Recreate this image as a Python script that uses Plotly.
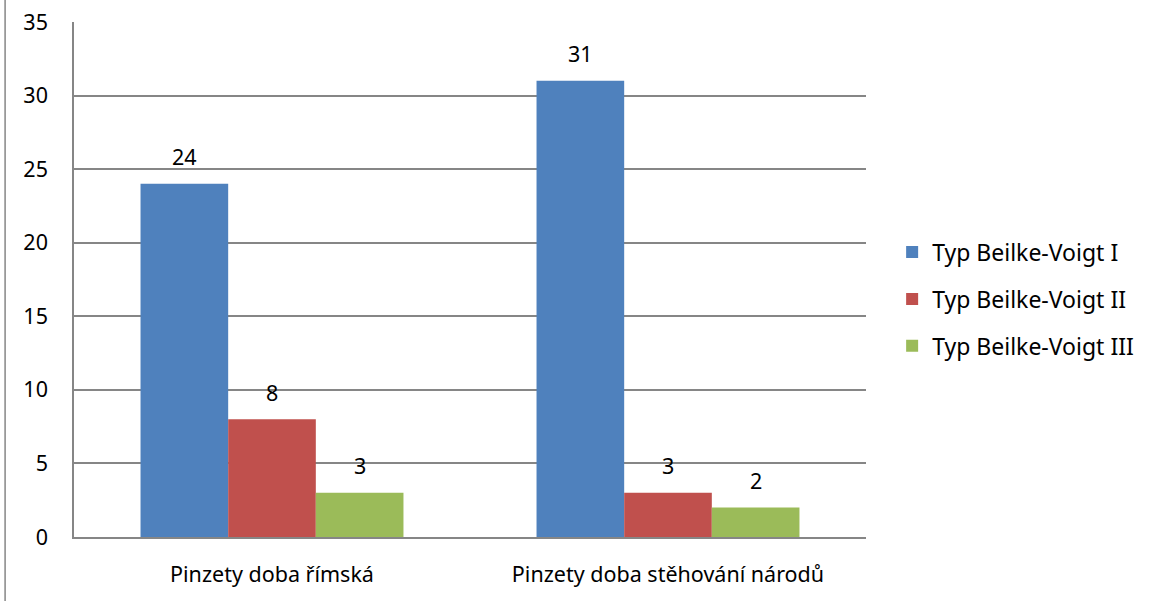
import plotly.graph_objects as go

categories = ["Pinzety doba římská", "Pinzety doba stěhování národů"]
series_names = ["Typ Beilke-Voigt I", "Typ Beilke-Voigt II", "Typ Beilke-Voigt III"]
values_I = [24, 31]
values_II = [8, 3]
values_III = [3, 2]
colors = ["#4F81BD", "#C0504D", "#9BBB59"]

font_family = "'Noto Sans', 'Open Sans', sans-serif"
all_series = [values_I, values_II, values_III]

fig = go.Figure()
for name, vals, col in zip(series_names, all_series, colors):
    fig.add_trace(go.Bar(
        x=categories, y=vals, name=name, marker=dict(color=col, line=dict(width=0)),
        legendgroup=name,
    ))

# data labels above bars
bar_px = 88
annotations = []
for si, vals in enumerate(all_series):
    for cat, v in zip(categories, vals):
        annotations.append(dict(
            x=cat, y=v, xref="x", yref="y", text=str(v), showarrow=False,
            xshift=(si - 1) * bar_px, yshift=27, yanchor="middle",
            font=dict(family=font_family, size=21.5, color="#000000"),
        ))

fig.update_layout(
    width=1155, height=601,
    margin=dict(l=74, r=289, t=22, b=64, autoexpand=False),
    paper_bgcolor="white", plot_bgcolor="white",
    barmode="group", bargap=0.336, bargroupgap=0,
    font=dict(family=font_family, size=21.5, color="#000000"),
    showlegend=True,
    legend=dict(x=1.033, y=0.462, xanchor="left", yanchor="middle",
                traceorder="grouped", tracegroupgap=14,
                font=dict(size=23), itemwidth=30),
    yaxis=dict(range=[0, 35], dtick=5, showgrid=True, gridcolor="#868686", gridwidth=1.5,
               showline=True, linecolor="#868686", linewidth=1.5,
               ticks="", ticklabelstandoff=20, zeroline=False, automargin=False,
               tickfont=dict(size=21.5)),
    xaxis=dict(showline=True, linecolor="#868686", linewidth=1.5, ticks="",
               tickfont=dict(size=21.5), ticklabelstandoff=17, automargin=False),
    shapes=[dict(type="line", xref="paper", yref="paper", x0=-0.087, x1=-0.087, y0=-0.2, y1=1.1,
                 line=dict(color="#868686", width=1.5))],
    annotations=annotations,
)
fig.write_html("out.html", config={"displayModeBar": False},
               post_script="document.body.style.margin='0';")
